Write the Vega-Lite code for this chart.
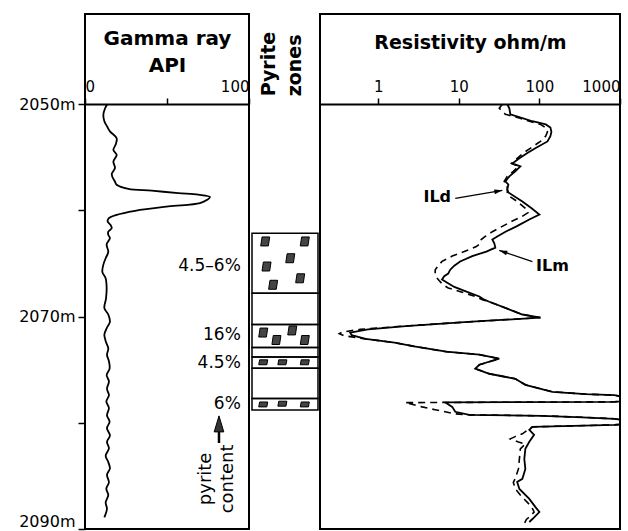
{
  "$schema": "https://vega.github.io/schema/vega-lite/v6.json",
  "background": "white",
  "padding": {"left": 5, "top": 13, "right": 5, "bottom": 0},
  "spacing": 0,
  "config": {
    "font": "DejaVu Sans",
    "view": {"stroke": "black", "strokeWidth": 2},
    "axis": {"grid": false, "domainColor": "black", "tickColor": "black", "labelColor": "black", "titleColor": "black", "labelFont": "DejaVu Sans", "titleFont": "DejaVu Sans"}
  },
  "datasets": {
    "gamma": [
      {"depth": 2050.0, "api": 13.5}, {"depth": 2050.4, "api": 12.2}, {"depth": 2050.97, "api": 11.2}, {"depth": 2051.6, "api": 11.8},
      {"depth": 2052.1, "api": 13.5}, {"depth": 2052.55, "api": 15.2}, {"depth": 2053.2, "api": 19.3}, {"depth": 2053.8, "api": 18.7},
      {"depth": 2054.3, "api": 17.3}, {"depth": 2054.76, "api": 19.3}, {"depth": 2055.4, "api": 17.3}, {"depth": 2056.0, "api": 18.3},
      {"depth": 2056.6, "api": 16.3}, {"depth": 2057.3, "api": 18.3}, {"depth": 2057.58, "api": 19.3}, {"depth": 2057.96, "api": 26.4},
      {"depth": 2058.14, "api": 40.7}, {"depth": 2058.37, "api": 56.9}, {"depth": 2058.52, "api": 69.1}, {"depth": 2058.74, "api": 76.2},
      {"depth": 2059.0, "api": 74.5}, {"depth": 2059.31, "api": 70.1}, {"depth": 2059.62, "api": 50.8}, {"depth": 2060.03, "api": 30.5},
      {"depth": 2060.41, "api": 19.3}, {"depth": 2060.73, "api": 14.6}, {"depth": 2061.04, "api": 13.8}, {"depth": 2061.35, "api": 15.5},
      {"depth": 2061.67, "api": 16.3}, {"depth": 2062.0, "api": 14.2}, {"depth": 2062.3, "api": 14.2}, {"depth": 2062.6, "api": 15.2},
      {"depth": 2063.2, "api": 13.2}, {"depth": 2063.9, "api": 14.2}, {"depth": 2064.5, "api": 12.6}, {"depth": 2065.1, "api": 11.2},
      {"depth": 2065.8, "api": 10.6}, {"depth": 2066.4, "api": 12.6}, {"depth": 2067.3, "api": 13.2}, {"depth": 2068.3, "api": 12.8},
      {"depth": 2069.2, "api": 11.8}, {"depth": 2069.8, "api": 14.2}, {"depth": 2070.5, "api": 15.2}, {"depth": 2071.1, "api": 13.2},
      {"depth": 2071.7, "api": 11.8}, {"depth": 2072.4, "api": 12.8}, {"depth": 2073.0, "api": 14.2}, {"depth": 2073.6, "api": 13.4},
      {"depth": 2074.2, "api": 14.6}, {"depth": 2074.9, "api": 15.0}, {"depth": 2075.5, "api": 13.2}, {"depth": 2076.1, "api": 14.6},
      {"depth": 2076.8, "api": 13.4}, {"depth": 2077.4, "api": 14.6}, {"depth": 2078.0, "api": 13.0}, {"depth": 2078.6, "api": 14.6},
      {"depth": 2079.3, "api": 13.4}, {"depth": 2079.9, "api": 15.0}, {"depth": 2080.5, "api": 13.4}, {"depth": 2081.2, "api": 15.2},
      {"depth": 2081.8, "api": 13.4}, {"depth": 2082.4, "api": 14.6}, {"depth": 2083.1, "api": 12.6}, {"depth": 2083.7, "api": 14.2},
      {"depth": 2084.3, "api": 15.2}, {"depth": 2084.9, "api": 13.4}, {"depth": 2085.6, "api": 14.6}, {"depth": 2086.2, "api": 13.0},
      {"depth": 2086.8, "api": 14.2}, {"depth": 2087.5, "api": 12.6}, {"depth": 2088.1, "api": 13.4}, {"depth": 2088.9, "api": 11.8}
    ],
    "pct": [
      {"label": "4.5–6%", "api": 95, "depth": 2065.24},
      {"label": "16%", "api": 95, "depth": 2071.75},
      {"label": "4.5%", "api": 95, "depth": 2074.39},
      {"label": "6%", "api": 95, "depth": 2078.25}
    ],
    "contentNote": [{"label": "pyrite\ncontent", "api": 76.8, "depth": 2085.28}],
    "contentArrow": [{"api": 81.7, "top": 2080.7, "bottom": 2081.9, "head": 2080.1}],
    "zones": [
      {"top": 2062.14, "bottom": 2067.8}, {"top": 2067.8, "bottom": 2070.75}, {"top": 2070.75, "bottom": 2072.9},
      {"top": 2072.9, "bottom": 2073.8}, {"top": 2073.8, "bottom": 2074.87}, {"top": 2074.87, "bottom": 2077.7},
      {"top": 2077.7, "bottom": 2078.8}
    ],
    "pyrite": [
      {"zone": "4.5–6%", "pos": 0.2, "depth": 2062.92}, {"zone": "4.5–6%", "pos": 0.8, "depth": 2062.92},
      {"zone": "4.5–6%", "pos": 0.58, "depth": 2064.5}, {"zone": "4.5–6%", "pos": 0.22, "depth": 2065.28},
      {"zone": "4.5–6%", "pos": 0.32, "depth": 2067.0}, {"zone": "4.5–6%", "pos": 0.73, "depth": 2066.39},
      {"zone": "16%", "pos": 0.17, "depth": 2071.5}, {"zone": "16%", "pos": 0.37, "depth": 2072.2},
      {"zone": "16%", "pos": 0.61, "depth": 2071.3}, {"zone": "16%", "pos": 0.8, "depth": 2072.2},
      {"zone": "4.5%", "pos": 0.17, "depth": 2074.3}, {"zone": "4.5%", "pos": 0.46, "depth": 2074.3}, {"zone": "4.5%", "pos": 0.8, "depth": 2074.3},
      {"zone": "6%", "pos": 0.17, "depth": 2078.27}, {"zone": "6%", "pos": 0.46, "depth": 2078.2}, {"zone": "6%", "pos": 0.8, "depth": 2078.27}
    ],
    "pyriteHead": [{"label": "Pyrite\nzones", "pos": 0.348, "depth": 2049.25}],
    "ilm": [
      {"depth": 2050.0, "ohm": 40.0}, {"depth": 2050.38, "ohm": 42.4}, {"depth": 2050.94, "ohm": 43.6}, {"depth": 2051.3, "ohm": 61.5},
      {"depth": 2051.6, "ohm": 82}, {"depth": 2051.9, "ohm": 120}, {"depth": 2052.2, "ohm": 137}, {"depth": 2052.6, "ohm": 141},
      {"depth": 2053.0, "ohm": 137}, {"depth": 2053.5, "ohm": 126}, {"depth": 2054.15, "ohm": 89}, {"depth": 2054.6, "ohm": 71},
      {"depth": 2055.09, "ohm": 56.5}, {"depth": 2055.57, "ohm": 46.2}, {"depth": 2055.85, "ohm": 58.1}, {"depth": 2056.32, "ohm": 50.3},
      {"depth": 2056.79, "ohm": 42.4}, {"depth": 2057.26, "ohm": 37.8}, {"depth": 2057.55, "ohm": 41.2}, {"depth": 2058.02, "ohm": 40.0},
      {"depth": 2058.3, "ohm": 41.2}, {"depth": 2059.15, "ohm": 61.5}, {"depth": 2059.8, "ohm": 80}, {"depth": 2060.38, "ohm": 100},
      {"depth": 2060.85, "ohm": 75}, {"depth": 2061.5, "ohm": 52}, {"depth": 2062.0, "ohm": 38}, {"depth": 2062.45, "ohm": 30},
      {"depth": 2062.74, "ohm": 26.1}, {"depth": 2063.1, "ohm": 27.6}, {"depth": 2063.5, "ohm": 28.4}, {"depth": 2063.87, "ohm": 22},
      {"depth": 2064.3, "ohm": 14.7}, {"depth": 2064.8, "ohm": 10.4}, {"depth": 2065.2, "ohm": 8.8}, {"depth": 2065.6, "ohm": 7.8},
      {"depth": 2065.95, "ohm": 7.4}, {"depth": 2066.2, "ohm": 6.6}, {"depth": 2066.5, "ohm": 6.2}, {"depth": 2066.8, "ohm": 7.2},
      {"depth": 2067.2, "ohm": 8.8}, {"depth": 2067.6, "ohm": 12.0}, {"depth": 2068.1, "ohm": 18.0}, {"depth": 2068.4, "ohm": 20.7},
      {"depth": 2068.6, "ohm": 23.9}, {"depth": 2069.25, "ohm": 40}, {"depth": 2069.8, "ohm": 61.5}, {"depth": 2070.09, "ohm": 103},
      {"depth": 2070.5, "ohm": 13}, {"depth": 2070.9, "ohm": 2.2}, {"depth": 2071.2, "ohm": 0.75}, {"depth": 2071.5, "ohm": 0.45},
      {"depth": 2071.75, "ohm": 0.47}, {"depth": 2072.1, "ohm": 0.7}, {"depth": 2072.45, "ohm": 1.6}, {"depth": 2072.8, "ohm": 2.8},
      {"depth": 2073.3, "ohm": 7}, {"depth": 2073.58, "ohm": 18}, {"depth": 2073.96, "ohm": 31.8}, {"depth": 2074.53, "ohm": 18},
      {"depth": 2074.9, "ohm": 16}, {"depth": 2075.38, "ohm": 23.9}, {"depth": 2075.85, "ohm": 50.3}, {"depth": 2076.42, "ohm": 67},
      {"depth": 2077.08, "ohm": 145}, {"depth": 2077.3, "ohm": 373}, {"depth": 2077.4, "ohm": 855}, {"depth": 2077.5, "ohm": 1000},
      {"depth": 2077.98, "ohm": 1000}, {"depth": 2078.02, "ohm": 855}, {"depth": 2078.08, "ohm": 6.8}, {"depth": 2078.5, "ohm": 8.3},
      {"depth": 2078.96, "ohm": 9.05}, {"depth": 2079.25, "ohm": 13.5}, {"depth": 2079.34, "ohm": 109}, {"depth": 2079.48, "ohm": 343},
      {"depth": 2079.62, "ohm": 855}, {"depth": 2079.7, "ohm": 1000}, {"depth": 2080.15, "ohm": 1000}, {"depth": 2080.19, "ohm": 855},
      {"depth": 2080.38, "ohm": 82}, {"depth": 2080.66, "ohm": 75}, {"depth": 2081.13, "ohm": 86}, {"depth": 2081.79, "ohm": 75},
      {"depth": 2082.45, "ohm": 67}, {"depth": 2083.4, "ohm": 65}, {"depth": 2084.34, "ohm": 67}, {"depth": 2085.28, "ohm": 61.5},
      {"depth": 2085.57, "ohm": 53}, {"depth": 2086.23, "ohm": 56.5}, {"depth": 2087.17, "ohm": 75}, {"depth": 2087.92, "ohm": 89},
      {"depth": 2088.4, "ohm": 100}, {"depth": 2089.06, "ohm": 82}, {"depth": 2089.34, "ohm": 75}
    ],
    "ild": [
      {"depth": 2050.0, "ohm": 34.7}, {"depth": 2050.38, "ohm": 31.8}, {"depth": 2050.94, "ohm": 37.8}, {"depth": 2051.3, "ohm": 56.5},
      {"depth": 2051.6, "ohm": 75}, {"depth": 2051.9, "ohm": 103}, {"depth": 2052.2, "ohm": 120}, {"depth": 2052.6, "ohm": 126},
      {"depth": 2053.0, "ohm": 120}, {"depth": 2053.5, "ohm": 103}, {"depth": 2054.15, "ohm": 77}, {"depth": 2054.6, "ohm": 63},
      {"depth": 2055.09, "ohm": 53}, {"depth": 2055.57, "ohm": 45}, {"depth": 2055.85, "ohm": 55}, {"depth": 2056.32, "ohm": 47.5},
      {"depth": 2056.79, "ohm": 40}, {"depth": 2057.26, "ohm": 36.6}, {"depth": 2057.55, "ohm": 40}, {"depth": 2058.02, "ohm": 40},
      {"depth": 2058.3, "ohm": 40}, {"depth": 2058.6, "ohm": 41.2}, {"depth": 2059.15, "ohm": 53}, {"depth": 2059.8, "ohm": 67},
      {"depth": 2060.2, "ohm": 72.5}, {"depth": 2060.6, "ohm": 60}, {"depth": 2061.0, "ohm": 46.2}, {"depth": 2061.5, "ohm": 34.7},
      {"depth": 2062.0, "ohm": 26.1}, {"depth": 2062.45, "ohm": 21.3}, {"depth": 2062.74, "ohm": 19}, {"depth": 2063.1, "ohm": 18.5},
      {"depth": 2063.4, "ohm": 16.5}, {"depth": 2063.87, "ohm": 11.7}, {"depth": 2064.3, "ohm": 8.3}, {"depth": 2064.8, "ohm": 6.2},
      {"depth": 2065.2, "ohm": 5.56}, {"depth": 2065.6, "ohm": 5.1}, {"depth": 2066.0, "ohm": 5.1}, {"depth": 2066.3, "ohm": 5.3},
      {"depth": 2066.6, "ohm": 5.7}, {"depth": 2067.0, "ohm": 6.4}, {"depth": 2067.3, "ohm": 7.4}, {"depth": 2067.7, "ohm": 11.0},
      {"depth": 2068.1, "ohm": 16}, {"depth": 2068.4, "ohm": 19.6}, {"depth": 2068.6, "ohm": 23.9}, {"depth": 2069.25, "ohm": 40},
      {"depth": 2069.8, "ohm": 61.5}, {"depth": 2070.09, "ohm": 103}, {"depth": 2070.5, "ohm": 13}, {"depth": 2070.9, "ohm": 2.0},
      {"depth": 2071.2, "ohm": 0.6}, {"depth": 2071.45, "ohm": 0.36}, {"depth": 2071.6, "ohm": 0.33}, {"depth": 2071.8, "ohm": 0.38},
      {"depth": 2072.1, "ohm": 0.7}, {"depth": 2072.45, "ohm": 1.6}, {"depth": 2072.8, "ohm": 2.8}, {"depth": 2073.3, "ohm": 7},
      {"depth": 2073.58, "ohm": 18}, {"depth": 2073.96, "ohm": 31.8}, {"depth": 2074.53, "ohm": 18}, {"depth": 2074.9, "ohm": 16},
      {"depth": 2075.38, "ohm": 23.9}, {"depth": 2075.85, "ohm": 50.3}, {"depth": 2076.42, "ohm": 67}, {"depth": 2077.08, "ohm": 145},
      {"depth": 2077.3, "ohm": 373}, {"depth": 2077.4, "ohm": 855}, {"depth": 2077.5, "ohm": 1000}, {"depth": 2077.98, "ohm": 1000},
      {"depth": 2078.02, "ohm": 855}, {"depth": 2078.1, "ohm": 2.16}, {"depth": 2078.5, "ohm": 3.5}, {"depth": 2078.77, "ohm": 5.1},
      {"depth": 2079.15, "ohm": 9.0}, {"depth": 2079.25, "ohm": 13.5}, {"depth": 2079.34, "ohm": 109}, {"depth": 2079.48, "ohm": 343},
      {"depth": 2079.62, "ohm": 855}, {"depth": 2079.7, "ohm": 1000}, {"depth": 2080.15, "ohm": 1000}, {"depth": 2080.19, "ohm": 855},
      {"depth": 2080.38, "ohm": 82}, {"depth": 2080.66, "ohm": 72}, {"depth": 2081.04, "ohm": 61.5}, {"depth": 2081.3, "ohm": 50},
      {"depth": 2081.51, "ohm": 43.6}, {"depth": 2081.8, "ohm": 55}, {"depth": 2082.0, "ohm": 67}, {"depth": 2082.45, "ohm": 58},
      {"depth": 2083.4, "ohm": 56.5}, {"depth": 2084.34, "ohm": 55}, {"depth": 2085.28, "ohm": 50}, {"depth": 2085.6, "ohm": 47.5},
      {"depth": 2086.2, "ohm": 50}, {"depth": 2086.8, "ohm": 58}, {"depth": 2087.2, "ohm": 65}, {"depth": 2087.9, "ohm": 80},
      {"depth": 2088.4, "ohm": 86}, {"depth": 2088.8, "ohm": 77}, {"depth": 2089.1, "ohm": 69}, {"depth": 2089.5, "ohm": 65}
    ],
    "curveLabels": [
      {"label": "ILd", "ohm": 5.41, "depth": 2058.77},
      {"label": "ILm", "ohm": 145, "depth": 2065.19}
    ],
    "arrows": [
      {"label": "ILd", "r1": 9.05, "d1": 2058.87, "r2": 34.7, "d2": 2058.11},
      {"label": "ILm", "r1": 81.9, "d1": 2064.81, "r2": 31.8, "d2": 2063.77}
    ]
  },
  "hconcat": [
    {
      "width": 164,
      "height": 515,
      "layer": [
        {
          "data": {"name": "gamma"},
          "mark": {"type": "line", "color": "black", "strokeWidth": 1.8, "interpolate": "catmull-rom"},
          "encoding": {
            "x": {
              "field": "api", "type": "quantitative",
              "scale": {"domain": [0, 100], "nice": false},
              "axis": {
                "orient": "top", "offset": -90, "values": [0, 50, 100],
                "labelExpr": "datum.value == 50 ? '' : datum.label",
                "title": ["Gamma ray", "API"], "titleFontSize": 20, "titleFontWeight": "bold",
                "titleLineHeight": 27, "titlePadding": 4,
                "labelFontSize": 15, "labelPadding": 4, "tickSize": 6, "tickWidth": 1.5,
                "domainWidth": 2, "labelFlush": true, "labelOverlap": false
              }
            },
            "y": {
              "field": "depth", "type": "quantitative",
              "scale": {"domain": [2041.5, 2090], "reverse": true, "nice": false, "zero": false},
              "axis": {
                "orient": "left", "values": [2050, 2060, 2070, 2080, 2090],
                "labelExpr": "datum.value % 20 == 10 ? datum.value + 'm' : ''",
                "title": null, "tickSize": 7, "tickWidth": 1.5, "labelFontSize": 16, "labelPadding": 3,
                "domain": false, "minExtent": 79, "maxExtent": 79, "labelOverlap": false,
                "labelFlush": true, "labelFlushOffset": 0
              }
            },
            "order": {"field": "depth", "type": "quantitative"}
          }
        },
        {
          "data": {"name": "pct"},
          "mark": {"type": "text", "align": "right", "baseline": "middle", "fontSize": 17, "color": "black"},
          "encoding": {
            "x": {"field": "api", "type": "quantitative"},
            "y": {"field": "depth", "type": "quantitative"},
            "text": {"field": "label"}
          }
        },
        {
          "data": {"name": "contentNote"},
          "mark": {"type": "text", "align": "center", "baseline": "alphabetic", "angle": 270, "fontSize": 18, "lineBreak": "\n", "lineHeight": 22, "color": "black"},
          "encoding": {
            "x": {"field": "api", "type": "quantitative"},
            "y": {"field": "depth", "type": "quantitative"},
            "text": {"field": "label"}
          }
        },
        {
          "data": {"name": "contentArrow"},
          "mark": {"type": "rule", "color": "black", "strokeWidth": 2.5},
          "encoding": {
            "x": {"field": "api", "type": "quantitative"},
            "y": {"field": "top", "type": "quantitative"},
            "y2": {"field": "bottom"}
          }
        },
        {
          "data": {"name": "contentArrow"},
          "mark": {"type": "point", "filled": true, "shape": "M0,-1L0.6,1L-0.6,1Z", "size": 256, "fill": "#333", "stroke": "black", "strokeWidth": 1, "opacity": 1},
          "encoding": {
            "x": {"field": "api", "type": "quantitative"},
            "y": {"field": "head", "type": "quantitative"}
          }
        }
      ]
    },
    {
      "width": 66,
      "height": 515,
      "view": {"stroke": null},
      "layer": [
        {
          "data": {"name": "zones"},
          "mark": {"type": "rect", "fill": "white", "fillOpacity": 0, "stroke": "black", "strokeWidth": 1.5},
          "encoding": {
            "x": {"datum": 0, "type": "quantitative", "scale": {"domain": [0, 1], "nice": false}, "axis": null},
            "x2": {"datum": 1},
            "y": {"field": "top", "type": "quantitative", "scale": {"domain": [2041.5, 2090], "reverse": true, "nice": false, "zero": false}, "axis": null},
            "y2": {"field": "bottom"}
          }
        },
        {
          "data": {"name": "pyrite"},
          "transform": [{"filter": {"field": "zone", "oneOf": ["4.5–6%", "16%"]}}],
          "mark": {"type": "point", "filled": true, "shape": "M-0.7,-1L1,-1L0.7,1L-1,1Z", "size": 81, "fill": "#444", "stroke": "black", "strokeWidth": 1, "opacity": 1},
          "encoding": {
            "x": {"field": "pos", "type": "quantitative"},
            "y": {"field": "depth", "type": "quantitative"}
          }
        },
        {
          "data": {"name": "pyrite"},
          "transform": [{"filter": {"field": "zone", "oneOf": ["4.5%", "6%"]}}],
          "mark": {"type": "point", "filled": true, "shape": "M-0.8,-0.55L1,-0.55L0.8,0.55L-1,0.55Z", "size": 81, "fill": "#444", "stroke": "black", "strokeWidth": 1, "opacity": 1},
          "encoding": {
            "x": {"field": "pos", "type": "quantitative"},
            "y": {"field": "depth", "type": "quantitative"}
          }
        },
        {
          "data": {"name": "pyriteHead"},
          "mark": {"type": "text", "align": "left", "baseline": "alphabetic", "angle": 270, "fontSize": 19, "fontWeight": "bold", "lineBreak": "\n", "lineHeight": 26, "color": "black"},
          "encoding": {
            "x": {"field": "pos", "type": "quantitative"},
            "y": {"field": "depth", "type": "quantitative"},
            "text": {"field": "label"}
          }
        }
      ]
    },
    {
      "width": 300,
      "height": 515,
      "layer": [
        {
          "data": {"name": "ild"},
          "mark": {"type": "line", "color": "black", "strokeWidth": 1.6, "strokeDash": [7, 5]},
          "encoding": {
            "x": {
              "field": "ohm", "type": "quantitative",
              "scale": {"type": "log", "domain": [0.19, 1000], "nice": false},
              "axis": {
                "orient": "top", "offset": -90, "values": [1, 10, 100, 1000], "format": "d",
                "title": "Resistivity ohm/m", "titleFontSize": 19, "titleFontWeight": "bold", "titlePadding": 27,
                "labelFontSize": 15, "labelPadding": 4, "tickSize": 6, "tickWidth": 1.5,
                "domainWidth": 2, "labelFlush": true, "labelOverlap": false
              }
            },
            "y": {
              "field": "depth", "type": "quantitative",
              "scale": {"domain": [2041.5, 2090], "reverse": true, "nice": false, "zero": false},
              "axis": null
            },
            "order": {"field": "depth", "type": "quantitative"}
          }
        },
        {
          "data": {"name": "ilm"},
          "mark": {"type": "line", "color": "black", "strokeWidth": 1.8},
          "encoding": {
            "x": {"field": "ohm", "type": "quantitative"},
            "y": {"field": "depth", "type": "quantitative"},
            "order": {"field": "depth", "type": "quantitative"}
          }
        },
        {
          "data": {"name": "curveLabels"},
          "mark": {"type": "text", "align": "center", "baseline": "middle", "fontSize": 16, "fontWeight": "bold", "color": "black"},
          "encoding": {
            "x": {"field": "ohm", "type": "quantitative"},
            "y": {"field": "depth", "type": "quantitative"},
            "text": {"field": "label"}
          }
        },
        {
          "data": {"name": "arrows"},
          "mark": {"type": "rule", "color": "black", "strokeWidth": 1.3},
          "encoding": {
            "x": {"field": "r1", "type": "quantitative"},
            "x2": {"field": "r2"},
            "y": {"field": "d1", "type": "quantitative"},
            "y2": {"field": "d2"}
          }
        },
        {
          "data": {"name": "arrows"},
          "transform": [{"filter": "datum.label == 'ILd'"}],
          "mark": {"type": "point", "filled": true, "shape": "M0,0L-2,-0.6L-2,0.6Z", "size": 64, "color": "black", "opacity": 1, "angle": 350},
          "encoding": {
            "x": {"field": "r2", "type": "quantitative"},
            "y": {"field": "d2", "type": "quantitative"}
          }
        },
        {
          "data": {"name": "arrows"},
          "transform": [{"filter": "datum.label == 'ILm'"}],
          "mark": {"type": "point", "filled": true, "shape": "M0,0L-2,-0.6L-2,0.6Z", "size": 64, "color": "black", "opacity": 1, "angle": 198},
          "encoding": {
            "x": {"field": "r2", "type": "quantitative"},
            "y": {"field": "d2", "type": "quantitative"}
          }
        }
      ]
    }
  ]
}
